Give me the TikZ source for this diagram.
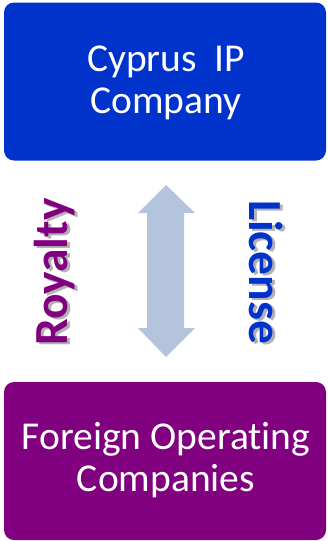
\documentclass[tikz,border=0pt]{standalone}
\usepackage{fontspec}
\setmainfont[Ligatures=NoCommon]{Carlito}
\definecolor{topblue}{RGB}{0,51,204}
\definecolor{botpurple}{RGB}{128,0,128}
\definecolor{arrowblue}{RGB}{180,196,221}
\definecolor{licblue}{RGB}{0,51,204}
\begin{document}
\begin{tikzpicture}[x=1pt,y=-1pt,
  boxstyle/.style={draw=none,rounded corners=10pt,minimum width=322pt,minimum height=158pt,inner sep=0pt},
  boxtext/.style={text=white,align=center,font=\fontsize{39.5}{42}\selectfont},
  sidelabel/.style={font=\bfseries\fontsize{47.5}{50}\selectfont,inner sep=0pt},
  shadowlabel/.style={sidelabel,text=black,opacity=0.3}]
\useasboundingbox (0,0) rectangle (328,541);
\node[boxstyle,fill=topblue] (top) at (165,81.5) {};
\node[boxtext] (toptext) at (166,83) {Cyprus~~IP\\Company};
\node[boxstyle,fill=botpurple] (bot) at (165,461) {};
\node[boxtext] (bottext) at (166,460) {Foreign Operating\\Companies};
\fill[arrowblue] (166,185) -- (195,213) -- (184,213) -- (184,328) -- (195,328) -- (166,357)
  -- (138,328) -- (147,328) -- (147,213) -- (138,213) -- cycle;
\node[shadowlabel,rotate=90] (royshadow) at (57.5,274) {Royalty};
\node[sidelabel,rotate=90,text=botpurple] (roy) at (55,272) {Royalty};
\node[shadowlabel,rotate=-90] (licshadow) at (268.5,274) {License};
\node[sidelabel,rotate=-90,text=licblue] (lic) at (266,272) {License};
\end{tikzpicture}
\end{document}
